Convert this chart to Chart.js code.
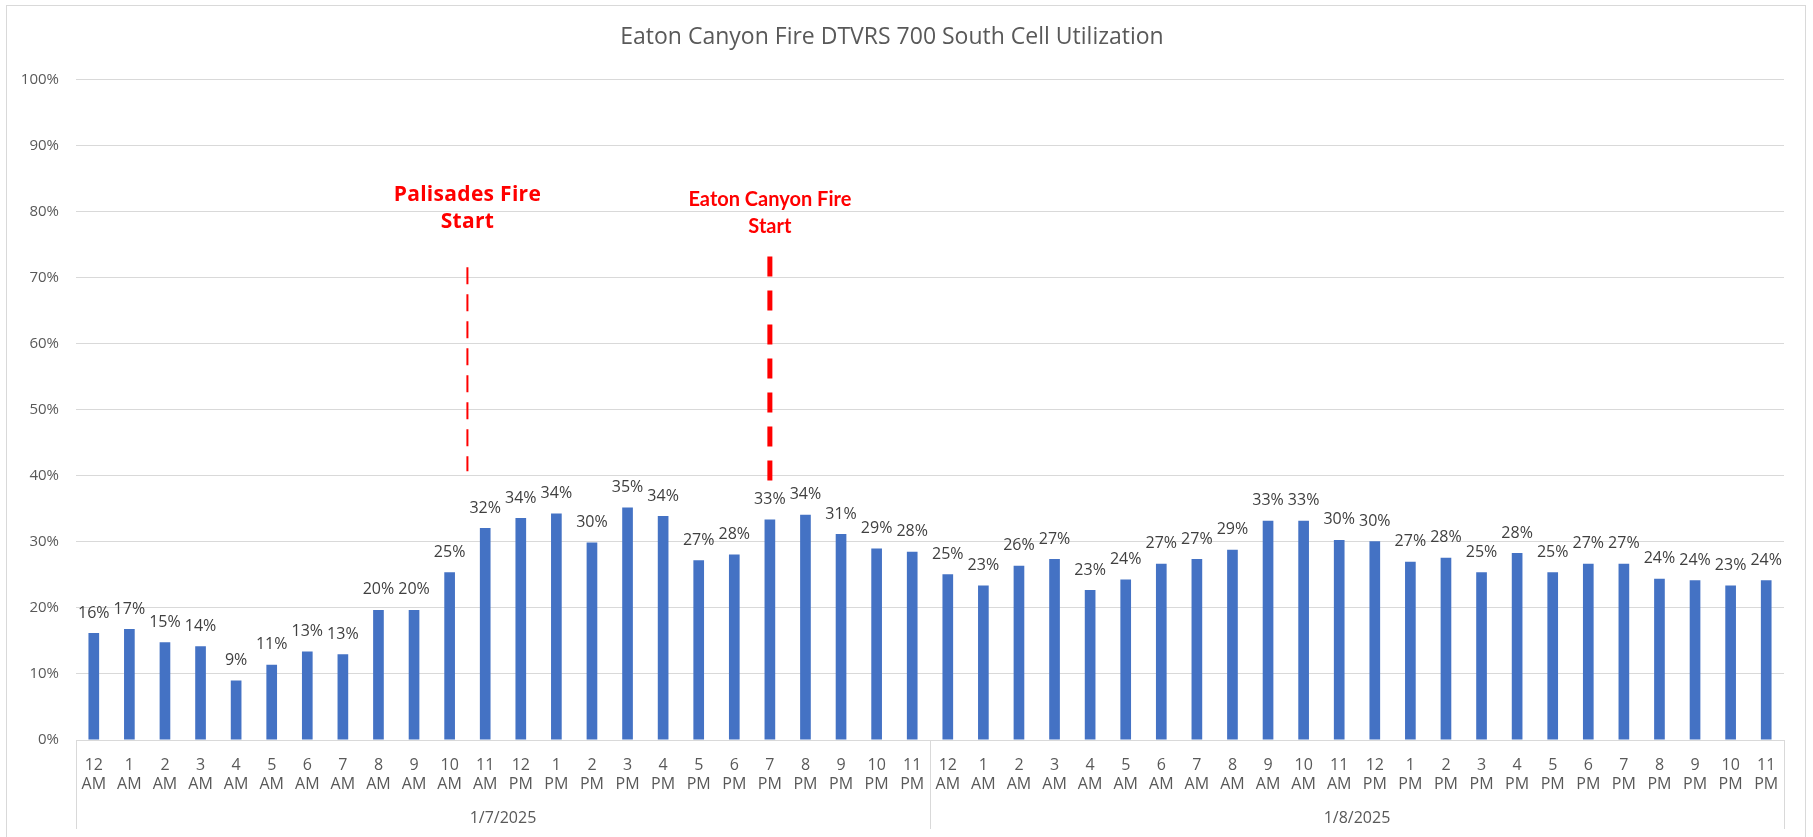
<!DOCTYPE html>
<html>
<head>
<meta charset="utf-8">
<script src="https://cdn.jsdelivr.net/npm/chart.js@4.4.1/dist/chart.umd.min.js"></script>
<style>
  html, body { margin: 0; padding: 0; background: #ffffff; overflow: hidden; }
  #wrap { position: relative; width: 1813px; height: 837px; }
  #frame { position: absolute; left: 6px; top: 5px; width: 1800px; height: 850px; border: 1.5px solid #d9d9d9; box-sizing: border-box; pointer-events: none; }
  canvas { position: absolute; left: 0; top: 0; }
</style>
</head>
<body>
<div id="wrap">
  <canvas id="c" width="1813" height="837"></canvas>
  <div id="frame"></div>
</div>
<script>
// ---- data ----
const hourLabels = ['12','1','2','3','4','5','6','7','8','9','10','11','12','1','2','3','4','5','6','7','8','9','10','11'];
const periodLabels = ['AM','AM','AM','AM','AM','AM','AM','AM','AM','AM','AM','AM','PM','PM','PM','PM','PM','PM','PM','PM','PM','PM','PM','PM'];
const dateLabels = ['1/7/2025', '1/8/2025'];
const utilDay1 = [0.162, 0.168, 0.148, 0.142, 0.090, 0.114, 0.134, 0.130, 0.197, 0.197, 0.254, 0.321,
                  0.336, 0.343, 0.299, 0.352, 0.339, 0.272, 0.281, 0.334, 0.341, 0.312, 0.290, 0.285];
const utilDay2 = [0.251, 0.234, 0.264, 0.274, 0.227, 0.243, 0.267, 0.274, 0.288, 0.332, 0.332, 0.303,
                  0.301, 0.270, 0.276, 0.254, 0.283, 0.254, 0.267, 0.267, 0.244, 0.242, 0.234, 0.242];
const yTicks = [0, 0.1, 0.2, 0.3, 0.4, 0.5, 0.6, 0.7, 0.8, 0.9, 1.0];
const eventLabels = [['Palisades Fire', 'Start'], ['Eaton Canyon Fire', 'Start']];
const eventCategory = [10.5, 19];

// ---- derived ----
const categories = [];
dateLabels.forEach(() => hourLabels.forEach((h, i) => categories.push([h, periodLabels[i]])));
const values = utilDay1.concat(utilDay2);

const eventStyles = [
  { font: 'bold 21px "Open Sans"', spacing: '0.3px', textY: [0.825, 0.784], lineTop: 0.716, lineBottom: 0.407, width: 2, dash: [17, 10] },
  { font: 'bold 20px Lato', spacing: '0px', textY: [0.818, 0.778], lineTop: 0.732, lineBottom: 0.389, width: 5, dash: [20, 14] }
];

const labelPlugin = {
  id: 'valueLabels',
  afterDatasetsDraw(chart) {
    const ctx = chart.ctx;
    const meta = chart.getDatasetMeta(0);
    ctx.save();
    ctx.font = '16px "Open Sans"';
    ctx.fillStyle = '#404040';
    ctx.textAlign = 'center';
    ctx.textBaseline = 'middle';
    meta.data.forEach((bar, i) => {
      ctx.fillText(Math.round(values[i] * 100) + '%', bar.x, bar.y - 20);
    });
    ctx.restore();
  }
};

const groupPlugin = {
  id: 'groupSeparators',
  afterDraw(chart) {
    const ctx = chart.ctx;
    const x = chart.scales.x;
    const x2 = chart.scales.x2;
    ctx.save();
    ctx.strokeStyle = '#d9d9d9';
    ctx.lineWidth = 1;
    const per = hourLabels.length;
    for (let g = 0; g <= dateLabels.length; g++) {
      const px = Math.round(x.getPixelForValue(g * per - 0.5)) + 0.5;
      ctx.beginPath();
      ctx.moveTo(px, chart.chartArea.bottom);
      ctx.lineTo(px, x2.bottom + 2);
      ctx.stroke();
    }
    ctx.restore();
  }
};

const eventPlugin = {
  id: 'eventMarkers',
  afterDraw(chart) {
    const ctx = chart.ctx;
    const x = chart.scales.x;
    const y = chart.scales.y;
    ctx.save();
    eventLabels.forEach((lines, k) => {
      const st = eventStyles[k];
      const px = x.getPixelForValue(eventCategory[k]);
      ctx.strokeStyle = '#ff0000';
      ctx.lineWidth = st.width;
      ctx.setLineDash(st.dash);
      ctx.beginPath();
      ctx.moveTo(px, y.getPixelForValue(st.lineTop));
      ctx.lineTo(px, y.getPixelForValue(st.lineBottom));
      ctx.stroke();
      ctx.setLineDash([]);
      ctx.fillStyle = '#ff0000';
      ctx.font = st.font;
      if ('letterSpacing' in ctx) ctx.letterSpacing = st.spacing;
      ctx.textAlign = 'center';
      ctx.textBaseline = 'middle';
      lines.forEach((t, j) => ctx.fillText(t, px, y.getPixelForValue(st.textY[j])));
    });
    ctx.restore();
  }
};

new Chart(document.getElementById('c'), {
  type: 'bar',
  data: {
    labels: categories,
    datasets: [{
      data: values,
      backgroundColor: '#4472c4',
      borderWidth: 0,
      barPercentage: 0.3,
      categoryPercentage: 1.0
    }]
  },
  options: {
    responsive: false,
    animation: false,
    events: [],
    layout: { padding: { left: 0, right: 29, top: 0, bottom: 10 } },
    plugins: {
      legend: { display: false },
      tooltip: { enabled: false },
      title: {
        display: true,
        text: 'Eaton Canyon Fire DTVRS 700 South Cell Utilization',
        color: '#595959',
        font: { family: '"Open Sans"', size: 23, weight: 'normal', lineHeight: 1.2 },
        padding: { top: 24, bottom: 28 }
      }
    },
    scales: {
      y: {
        min: 0, max: 1,
        afterBuildTicks(scale) { scale.ticks = yTicks.map(v => ({ value: v })); },
        afterFit(scale) { scale.width = 76; },
        ticks: {
          color: '#595959',
          font: { family: '"Open Sans"', size: 15 },
          padding: 17,
          callback: v => Math.round(v * 100) + '%'
        },
        grid: { color: '#d9d9d9', lineWidth: 1, drawTicks: false },
        border: { display: false }
      },
      x: {
        weight: 0,
        afterFit(scale) { scale.height = 52; },
        ticks: {
          color: '#595959',
          font: { family: '"Open Sans"', size: 16, lineHeight: 1.19 },
          padding: 8,
          autoSkip: false,
          maxRotation: 0,
          minRotation: 0
        },
        grid: { display: false },
        border: { display: true, color: '#d9d9d9', width: 1 }
      },
      x2: {
        type: 'category',
        position: 'bottom',
        weight: 1,
        labels: dateLabels,
        offset: true,
        afterFit(scale) { scale.height = 35; },
        ticks: {
          color: '#595959',
          font: { family: '"Open Sans"', size: 16, lineHeight: 1.19 },
          padding: 9,
          maxRotation: 0,
          minRotation: 0
        },
        grid: { display: false },
        border: { display: false }
      }
    }
  },
  plugins: [labelPlugin, groupPlugin, eventPlugin]
});
</script>
</body>
</html>
